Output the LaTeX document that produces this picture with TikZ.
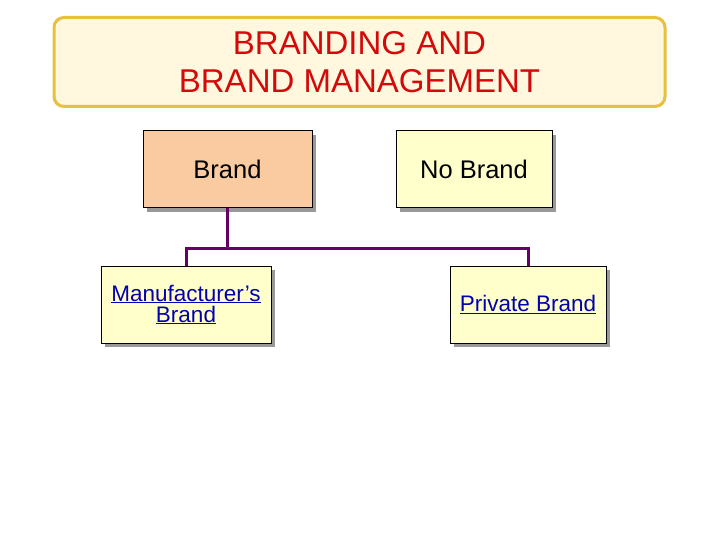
\documentclass[tikz,border=0pt]{standalone}
\usepackage{fontspec}
\setmainfont{Liberation Sans}
\begin{document}
\begin{tikzpicture}[x=1pt,y=-1pt,
  box/.style={draw=black,line width=1pt,minimum width=#1,minimum height=77pt,align=center,inner sep=0pt,
    preaction={fill=gray!80,transform canvas={shift={(4pt,-4pt)}}}},
  conn/.style={draw=violet!80!black,line width=3pt},
  link/.style={text=blue!70!black,font=\fontsize{22.5}{23}\selectfont}]
\useasboundingbox (0,0) rectangle (720,540);
\node[draw={rgb,255:red,232;green,192;blue,64},line width=3pt,rounded corners=10pt,fill={rgb,255:red,255;green,248;blue,222},
  minimum width=611pt,minimum height=89pt,align=center,text={rgb,255:red,210;green,10;blue,10},
  font=\fontsize{33}{38}\selectfont] (title) at (359.5,62) {BRANDING AND\\BRAND MANAGEMENT};
\node[box=169pt,fill={rgb,255:red,250;green,203;blue,160},font=\fontsize{25.5}{28}\selectfont] (brand) at (227.5,169.5) {Brand};
\node[box=156pt,fill={rgb,255:red,255;green,255;blue,204},font=\fontsize{25.5}{28}\selectfont] (nobrand) at (474,169.5) {No Brand};
\node[box=170pt,fill={rgb,255:red,255;green,255;blue,204},link] (mfr) at (186,304.5) {\underline{Manufacturer’s}\\[-2pt]\underline{Brand}};
\node[box=156pt,fill={rgb,255:red,255;green,255;blue,204},link] (priv) at (528,304.5) {\underline{Private Brand}};
\coordinate (j) at (227.5,248);
\draw[conn] (brand.south) -- (j);
\draw[conn] (mfr.north) |- (j) -| (priv.north);
\end{tikzpicture}
\end{document}
